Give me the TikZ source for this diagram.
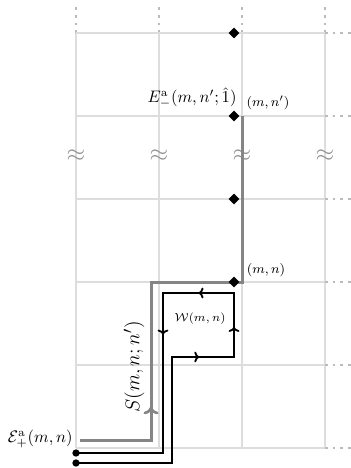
\documentclass[tikz,border=0pt]{standalone}
\usetikzlibrary{shapes.geometric,arrows.meta,decorations.markings}
\definecolor{gridgray}{HTML}{DDDDDD}
\definecolor{dotgray}{HTML}{BBBBBB}
\definecolor{pathgray}{HTML}{858585}
\definecolor{approxgray}{HTML}{909090}
\begin{document}
\begin{tikzpicture}[x=0.6pt,y=-0.6pt,
  gridline/.style={draw=gridgray,line width=1.2pt},
  dotline/.style={draw=dotgray,line width=1.5pt,dash pattern=on 1.5pt off 3.1pt},
  graypath/.style={draw=pathgray,line width=1.8pt},
  blackpath/.style={draw=black,line width=1.2pt},
  blkarrow/.style={postaction={decorate},decoration={markings,mark=at position #1 with {\arrow[line width=1.1pt]{Computer Modern Rightarrow[width=6.5pt,length=3pt]}}}},
  grayarrow/.style={postaction={decorate},decoration={markings,mark=at position #1 with {\arrow[pathgray,line width=1.6pt]{Computer Modern Rightarrow[width=9pt,length=4.5pt]}}}},
  diam/.style={diamond,fill=black,inner sep=0pt,minimum size=6.5pt},
  enddot/.style={circle,fill=black,inner sep=0pt,minimum size=4.4pt},
  approxlbl/.style={text=approxgray,font=\Large,inner sep=0pt}]
\useasboundingbox (0,0) rectangle (350,468);
% grid
\foreach \x in {76,159,242,325} {
  \draw[gridline] (\x,33) -- (\x,448);
  \draw[dotline] (\x,33) -- (\x,5);
  \node[approxlbl] (ap\x) at (\x,156) {$\approx$};
}
\foreach \y in {33,116,199,282,365,448} {
  \draw[gridline] (76,\y) -- (325,\y);
  \draw[dotline] (325,\y) -- (352,\y);
}
% gray string S
\coordinate (g0) at (80,440);
\coordinate (g1) at (151,440);
\coordinate (g2) at (151,282);
\coordinate (g3) at (242,282);
\coordinate (g4) at (242,116);
\draw[graypath,line join=miter] (g0) -- (g1) -- (g2) -- (g3) -- (g4);
\path[grayarrow=0.21] (g1) -- (g2);
% black loop
\node[enddot] (d1) at (76,453) {};
\node[enddot] (d2) at (76,463) {};
\coordinate (b1) at (172,463);
\coordinate (b2) at (172,357);
\coordinate (b3) at (234,357);
\coordinate (b4) at (234,293);
\coordinate (b5) at (163,293);
\coordinate (b6) at (163,453);
\draw[blackpath,line join=miter] (d2.center) -- (b1) -- (b2) -- (b3) -- (b4) -- (b5) -- (b6) -- (d1.center);
\path[blkarrow=0.44] (b2) -- (b3);
\path[blkarrow=0.47] (b3) -- (b4);
\path[blkarrow=0.5] (b4) -- (b5);
\path[blkarrow=0.26] (b5) -- (b6);
% diamonds
\foreach \y in {33,116,199,282} \node[diam] (dm\y) at (234,\y) {};
% labels
\node[inner sep=0.5pt] (Em) at (192,98) {$E_{-}^{\mathrm{a}}(m,n';\hat{1})$};
\node[font=\footnotesize,inner sep=0.5pt] (mnp) at (268,103) {$(m,n')$};
\node[font=\footnotesize,inner sep=0.5pt] (mn) at (266,270) {$(m,n)$};
\node[font=\scriptsize,inner sep=0.5pt] (W) at (200,319) {$\mathcal{W}(m,n)$};
\node[rotate=90,font=\fontsize{13}{15}\selectfont,inner sep=0.5pt] (S) at (134,367) {$S(m,n;n')$};
\node[anchor=east,inner sep=0pt] (Ep) at (73,439) {$\mathcal{E}_{+}^{\mathrm{a}}(m,n)$};
\end{tikzpicture}
\end{document}
